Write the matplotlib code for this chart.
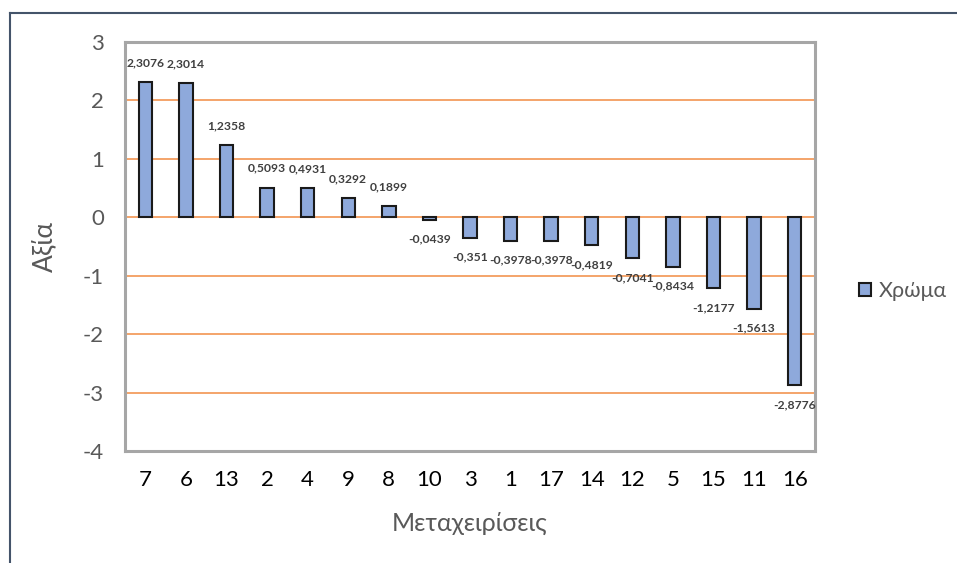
import matplotlib
matplotlib.use("Agg")
import matplotlib.pyplot as plt
from matplotlib.patches import Patch
from matplotlib.lines import Line2D

plt.rcParams['font.family'] = ['Lato', 'DejaVu Sans']
plt.rcParams['axes.unicode_minus'] = False

categories = ["7", "6", "13", "2", "4", "9", "8", "10", "3", "1", "17", "14", "12", "5", "15", "11", "16"]
values = [2.3076, 2.3014, 1.2358, 0.5093, 0.4931, 0.3292, 0.1899, -0.0439, -0.351,
          -0.3978, -0.3978, -0.4819, -0.7041, -0.8434, -1.2177, -1.5613, -2.8776]
yticks = [-4, -3, -2, -1, 0, 1, 2, 3]
series_name = "Χρώμα"
xlabel = "Μεταχειρίσεις"
ylabel = "Αξία"

fig = plt.figure(figsize=(9.57, 5.63), dpi=100)
ax = fig.add_axes([125/957, 1-451/563, 690/957, 409/563])

x = list(range(len(categories)))
ax.bar(x, values, width=0.33, color='#8EA9DB', edgecolor='#1a1a1a', linewidth=1.5, zorder=3)

ax.set_xlim(-0.5, len(categories)-0.5)
ax.set_ylim(-4, 3)
ax.set_yticks(yticks)
ax.set_yticklabels([str(t) for t in yticks])
ax.set_xticks(x)
ax.set_xticklabels(categories)
ax.tick_params(axis='both', length=0, labelsize=16)
ax.tick_params(axis='y', pad=15, colors='#595959')
ax.tick_params(axis='x', pad=14, colors='#000000')

for yv in yticks[1:-1]:
    ax.axhline(yv, color='#F4A46A', linewidth=1.4, zorder=1)

for s in ax.spines.values():
    s.set_color('#A6A6A6')
    s.set_linewidth(2.2)

for xi, v in zip(x, values):
    lab = str(v).replace('.', ',')
    off = 14 if v >= 0 else -14
    ax.annotate(lab, (xi, v), xytext=(0, off), textcoords='offset points',
                ha='center', va='center', fontsize=8.7, fontweight='bold', color='#404040', zorder=4)

ax.set_ylabel(ylabel, fontsize=19, color='#595959')
ax.yaxis.set_label_coords(-0.099, 0.5)
ax.set_xlabel(xlabel, fontsize=18, color='#595959')
ax.xaxis.set_label_coords(0.5, -0.149)

handle = Patch(facecolor='#8EA9DB', edgecolor='#1a1a1a', linewidth=1.5)
fig.legend([handle], [series_name], loc='center left', bbox_to_anchor=(840/957, 1-291/563),
           frameon=False, fontsize=15.5, handlelength=0.55, handleheight=0.55, handletextpad=0.35,
           labelcolor='#595959')

fig.add_artist(Line2D([10/957, 10/957], [0, 1-13/563], color='#44546A', linewidth=1.5, transform=fig.transFigure))
fig.add_artist(Line2D([10/957, 1], [1-13/563, 1-13/563], color='#44546A', linewidth=1.5, transform=fig.transFigure))

fig.savefig("out.png", dpi=100)
